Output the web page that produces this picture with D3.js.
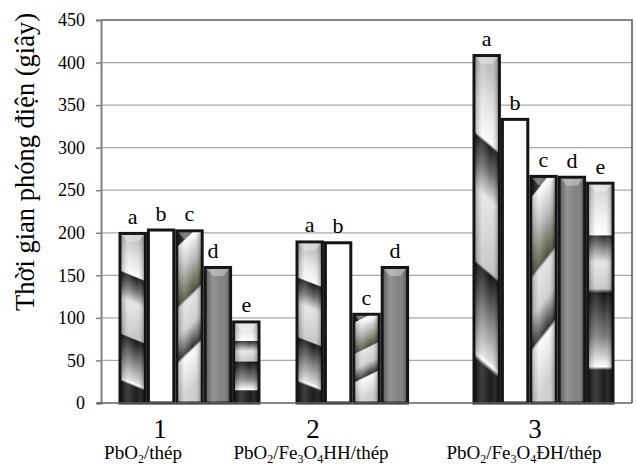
<!DOCTYPE html>
<html><head><meta charset="utf-8">
<script src="https://cdn.jsdelivr.net/npm/d3@7/dist/d3.min.js"></script>
<style>body{margin:0;background:#fff}svg{display:block}</style>
</head><body><svg id="c" width="636" height="468"></svg>
<script>
const categories = ["1", "2", "3"];
const categoryNames = ["PbO2/thép", "PbO2/Fe3O4HH/thép", "PbO2/Fe3O4ĐH/thép"];
const seriesKeys = ["a", "b", "c", "d", "e"];
const seriesA = [201, 191, 410];
const seriesB = [205, 190, 335];
const seriesC = [204, 106, 268];
const seriesD = [161, 161, 267];
const seriesE = [97, null, 260];
const yTicks = [0, 50, 100, 150, 200, 250, 300, 350, 400, 450];
const yTitle = "Thời gian phóng điện (giây)";

const FONT = "'Liberation Serif'";
const allSeries = [seriesA, seriesB, seriesC, seriesD, seriesE];
const svg = d3.select("#c").attr("font-family", FONT);
const L = 101, R = 632, T = 20, B = 403;

const x = d3.scaleBand().domain(categories).range([L, R]);
const xs = d3.scaleBand().domain(seriesKeys).range([-71, 71]);
const y = d3.scaleLinear().domain([0, 450]).range([B, T]);

// gradients
const defs = svg.append("defs");
function grad(id, stops, skew) {
  const g = defs.append("linearGradient").attr("id", id)
    .attr("x1", 0).attr("y1", 0).attr("x2", 0).attr("y2", 1);
  if (skew) g.attr("gradientTransform", `skewY(${skew})`);
  stops.forEach(s => g.append("stop").attr("offset", s[0]).attr("stop-color", s[1]));
}
grad("gA", [[0,"#bdbdbd"],[0.12,"#e6e6e6"],[0.215,"#fafafa"],[0.225,"#1c1c1c"],[0.3,"#6a6a6a"],[0.38,"#e4e4e4"],[0.5,"#d2d2d2"],[0.585,"#c4c4c4"],[0.595,"#121212"],[0.72,"#7a7a7a"],[0.84,"#dcdcdc"],[0.855,"#ffffff"],[0.87,"#1c1c1c"],[1,"#1c1c1c"]], 3.5);
grad("gC", [[0,"#1c1c1c"],[0.09,"#1c1c1c"],[0.1,"#ffffff"],[0.25,"#bcbcbc"],[0.42,"#5a5a45"],[0.44,"#4a4a38"],[0.46,"#e2e2e2"],[0.62,"#cfcfcf"],[0.76,"#303030"],[0.78,"#fafafa"],[0.92,"#e0e0e0"],[1,"#cfcfcf"]], -8);
grad("gE", [[0,"#d0d0d0"],[0.2,"#fafafa"],[0.235,"#ffffff"],[0.24,"#2a2a2a"],[0.3,"#8a8a8a"],[0.36,"#e6e6e6"],[0.48,"#c6c6c6"],[0.5,"#101010"],[0.7,"#7c7c7c"],[0.835,"#ffffff"],[0.85,"#1c1c1c"],[1,"#1c1c1c"]], 0);
const hl = defs.append("linearGradient").attr("id","hl").attr("x1",0).attr("x2",1).attr("y1",0).attr("y2",0);
[[0,"rgba(0,0,0,0.25)"],[0.3,"rgba(255,255,255,0.15)"],[0.7,"rgba(255,255,255,0)"],[1,"rgba(0,0,0,0.3)"]].forEach(s=>hl.append("stop").attr("offset",s[0]).attr("stop-color",s[1]));
const fills = {a:"url(#gA)", b:"#ffffff", c:"url(#gC)", d:"#808080", e:"url(#gE)"};

// grid
svg.append("g").selectAll("line").data(yTicks.filter(t => t > 0 && t < 450)).join("line")
  .attr("x1", L).attr("x2", R).attr("y1", d => y(d)).attr("y2", d => y(d))
  .attr("stroke", "#a8a8a8").attr("stroke-width", 1.2);
// frame top/right
svg.append("path").attr("d", `M${L},${T}H${R}V${B}`).attr("fill","none").attr("stroke","#606060").attr("stroke-width",1.6);

// y axis
const yAxis = d3.axisLeft(y).tickValues(yTicks).tickSize(5).tickPadding(11);
const ya = svg.append("g").attr("transform", `translate(${L},0)`).call(yAxis)
  .attr("font-family", FONT).attr("font-size", 18);
ya.select(".domain").attr("stroke", "#808080").attr("stroke-width", 2);
ya.selectAll(".tick line").attr("stroke", "#808080").attr("stroke-width", 1.5);
ya.selectAll(".tick text").attr("fill", "#000");

// bars
const bars = [];
categories.forEach((c, i) => seriesKeys.forEach((k, j) => {
  const v = allSeries[j][i];
  if (v != null) bars.push({c, k, v});
}));
const bx = d => x(d.c) + x.bandwidth() / 2 + xs(d.k);
const bg = svg.append("g");
bg.selectAll("rect.bar").data(bars).join("rect").attr("class","bar")
  .attr("x", d => bx(d) + 1.5).attr("y", d => y(d.v) + 1.5)
  .attr("width", xs.bandwidth() - 3).attr("height", d => B - y(d.v) - 1.5)
  .attr("fill", d => fills[d.k]).attr("stroke", "#151515").attr("stroke-width", 3);
bg.selectAll("rect.hl").data(bars.filter(d => d.k !== "b")).join("rect").attr("class","hl")
  .attr("x", d => bx(d) + 3).attr("y", d => y(d.v) + 3)
  .attr("width", xs.bandwidth() - 6).attr("height", d => B - y(d.v) - 3)
  .attr("fill", "url(#hl)");
bg.selectAll("path.bv").data(bars.filter(d => d.k !== "b")).join("path").attr("class","bv")
  .attr("d", d => { const x0 = bx(d) + 3, x1 = bx(d) + xs.bandwidth() - 3, y0 = y(d.v) + 3;
     return `M${x0},${y0}H${x1}L${x1-6},${y0+7}H${x0+6}Z`; })
  .attr("fill", "rgba(255,255,255,0.35)");

// bottom axis line
svg.append("line").attr("x1", L - 4).attr("x2", R).attr("y1", B).attr("y2", B)
  .attr("stroke", "#606060").attr("stroke-width", 1.6);

// bar letters
svg.append("g").selectAll("text").data(bars).join("text")
  .attr("x", d => bx(d) + xs.bandwidth() / 2 + (d.k === "d" && d.c === "1" ? -5 : 0))
  .attr("y", d => y(d.v) - 8)
  .attr("text-anchor", "middle").attr("font-size", 22).attr("fill", "#000").text(d => d.k);

// category labels
const numOffset = [-29.5, -53.5, -8.5];
const nameOffset = [-46.5, -55.5, -19.5];
svg.append("g").selectAll("text").data(categories).join("text")
  .attr("x", (d, i) => x(d) + x.bandwidth() / 2 + numOffset[i]).attr("y", 438)
  .attr("text-anchor", "middle").attr("font-size", 27).attr("fill", "#000").text(d => d);
const nameG = svg.append("g");
categoryNames.forEach((n, i) => {
  const t = nameG.append("text").attr("x", x(categories[i]) + x.bandwidth() / 2 + nameOffset[i]).attr("y", 459)
    .attr("text-anchor", "middle").attr("font-size", 19).attr("fill", "#000");
  const parts = n.split(/(\d)/).filter(p => p !== "");
  let sub = false;
  parts.forEach(p => {
    const isSub = /^\d$/.test(p);
    const dy = isSub && !sub ? 4 : (!isSub && sub ? -4 : 0);
    t.append("tspan").attr("dy", dy).attr("font-size", isSub ? 12 : 19).text(p);
    sub = isSub;
  });
});

// y title
svg.append("text").attr("transform", `translate(34,162) rotate(-90)`)
  .attr("text-anchor", "middle").attr("font-size", 26.5).attr("fill", "#000").text(yTitle);
</script></body></html>
